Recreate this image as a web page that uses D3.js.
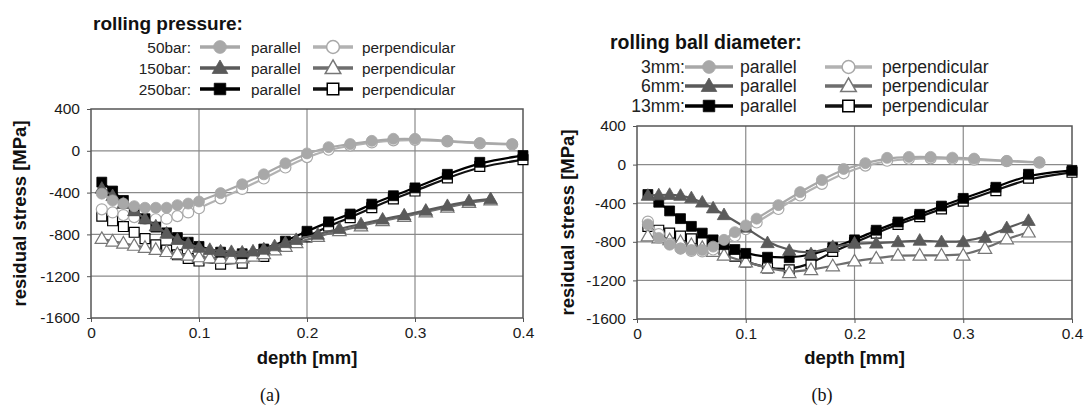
<!DOCTYPE html>
<html><head><meta charset="utf-8">
<script src="https://cdn.jsdelivr.net/npm/d3@7"></script>
<style>body{margin:0;background:#fff}svg{display:block}</style>
</head><body><svg id="c" width="1087" height="416"></svg>
<script>
// ---------- DATA ----------
const xTicks = [0, 0.1, 0.2, 0.3, 0.4];
const xTickLabels = ["0", "0.1", "0.2", "0.3", "0.4"];
const yTicks = [400, 0, -400, -800, -1200, -1600];
const yTickLabels = ["400", "0", "-400", "-800", "-1200", "-1600"];

const titleA = "rolling pressure:";
const levelsA = ["50bar:", "150bar:", "250bar:"];
const titleB = "rolling ball diameter:";
const levelsB = ["3mm:", "6mm:", "13mm:"];
const dirLabels = ["parallel", "perpendicular"];

// panel (a): [depth mm, residual stress MPa]
const a50par = [[0.01,-410],[0.02,-475],[0.03,-505],[0.04,-530],[0.05,-545],[0.06,-545],[0.07,-545],[0.08,-520],[0.09,-505],[0.10,-485],[0.12,-405],[0.14,-320],[0.16,-225],[0.18,-120],[0.20,-25],[0.22,35],[0.24,65],[0.26,95],[0.28,115],[0.30,115],[0.33,95],[0.36,75],[0.39,65]];
const a50perp = [[0.01,-560],[0.02,-590],[0.03,-615],[0.04,-635],[0.05,-650],[0.06,-655],[0.07,-650],[0.08,-625],[0.09,-590],[0.10,-550],[0.12,-455],[0.14,-365],[0.16,-265],[0.18,-160],[0.20,-60],[0.22,10],[0.24,50],[0.26,80],[0.28,100],[0.30,105],[0.33,90],[0.36,70],[0.39,60]];
const a150par = [[0.01,-360],[0.02,-430],[0.03,-505],[0.04,-575],[0.05,-650],[0.06,-720],[0.07,-790],[0.08,-850],[0.09,-890],[0.10,-925],[0.11,-945],[0.12,-960],[0.13,-965],[0.14,-970],[0.15,-960],[0.16,-940],[0.17,-910],[0.18,-880],[0.19,-850],[0.21,-800],[0.23,-745],[0.25,-700],[0.27,-655],[0.29,-615],[0.31,-570],[0.33,-525],[0.35,-480],[0.37,-460]];
const a150perp = [[0.01,-840],[0.02,-865],[0.03,-885],[0.04,-905],[0.05,-925],[0.06,-945],[0.07,-965],[0.08,-985],[0.09,-1000],[0.10,-1015],[0.11,-1025],[0.12,-1030],[0.13,-1030],[0.14,-1025],[0.15,-1010],[0.16,-985],[0.17,-950],[0.18,-915],[0.19,-880],[0.21,-820],[0.23,-765],[0.25,-720],[0.27,-670],[0.29,-630],[0.31,-585],[0.33,-540],[0.35,-495],[0.37,-470]];
const a250par = [[0.01,-300],[0.02,-385],[0.03,-475],[0.04,-570],[0.05,-650],[0.06,-730],[0.07,-785],[0.08,-830],[0.09,-875],[0.10,-915],[0.12,-970],[0.14,-985],[0.16,-940],[0.18,-865],[0.20,-770],[0.22,-680],[0.24,-605],[0.26,-510],[0.28,-430],[0.30,-355],[0.33,-225],[0.36,-110],[0.40,-45]];
const a250perp = [[0.01,-625],[0.02,-670],[0.03,-725],[0.04,-780],[0.05,-840],[0.06,-900],[0.07,-950],[0.08,-995],[0.09,-1030],[0.10,-1055],[0.12,-1085],[0.14,-1075],[0.16,-1010],[0.18,-915],[0.20,-825],[0.22,-720],[0.24,-640],[0.26,-545],[0.28,-460],[0.30,-385],[0.33,-260],[0.36,-150],[0.40,-85]];

// panel (b)
const b3par = [[0.01,-620],[0.02,-760],[0.03,-830],[0.04,-870],[0.05,-885],[0.06,-885],[0.07,-850],[0.08,-780],[0.09,-700],[0.10,-630],[0.11,-560],[0.13,-420],[0.15,-285],[0.17,-160],[0.19,-45],[0.21,15],[0.23,70],[0.25,80],[0.27,80],[0.29,72],[0.31,62],[0.34,38],[0.37,25]];
const b3perp = [[0.01,-590],[0.02,-720],[0.03,-820],[0.04,-870],[0.05,-895],[0.06,-900],[0.07,-880],[0.08,-820],[0.09,-740],[0.10,-670],[0.11,-600],[0.13,-460],[0.15,-320],[0.17,-200],[0.19,-90],[0.21,-10],[0.23,40],[0.25,60],[0.27,65],[0.29,60],[0.31,50],[0.34,35],[0.37,20]];
const b6par = [[0.01,-320],[0.02,-315],[0.03,-310],[0.04,-320],[0.05,-345],[0.06,-390],[0.07,-450],[0.08,-520],[0.10,-650],[0.12,-810],[0.14,-890],[0.16,-925],[0.18,-850],[0.20,-815],[0.22,-815],[0.24,-800],[0.26,-785],[0.28,-800],[0.30,-800],[0.32,-755],[0.34,-655],[0.36,-580]];
const b6perp = [[0.01,-740],[0.02,-760],[0.03,-780],[0.04,-800],[0.05,-830],[0.06,-860],[0.07,-900],[0.08,-940],[0.10,-1010],[0.12,-1070],[0.14,-1120],[0.16,-1090],[0.18,-1050],[0.20,-1000],[0.22,-970],[0.24,-940],[0.26,-940],[0.28,-940],[0.30,-940],[0.32,-870],[0.34,-770],[0.36,-700]];
const b13par = [[0.01,-310],[0.02,-390],[0.03,-480],[0.04,-560],[0.05,-640],[0.06,-710],[0.07,-780],[0.08,-830],[0.09,-880],[0.10,-920],[0.12,-960],[0.14,-965],[0.16,-940],[0.18,-860],[0.20,-780],[0.22,-680],[0.24,-595],[0.26,-515],[0.28,-430],[0.30,-350],[0.33,-235],[0.36,-100],[0.40,-60]];
const b13perp = [[0.01,-640],[0.02,-680],[0.03,-710],[0.04,-740],[0.05,-770],[0.06,-800],[0.07,-840],[0.08,-890],[0.09,-950],[0.10,-1010],[0.12,-1070],[0.14,-1090],[0.16,-1030],[0.18,-900],[0.20,-810],[0.22,-710],[0.24,-620],[0.26,-540],[0.28,-460],[0.30,-380],[0.33,-270],[0.36,-140],[0.40,-80]];

// ---------- STYLE ----------
const FONT = "'Liberation Sans', Arial, sans-serif";
const levelStyle = [
  {color: "#a8a8a8", lineP: "#a8a8a8", lineQ: "#b2b2b2", sym: d3.symbolCircle, size: 95},
  {color: "#5a5a5a", lineP: "#5a5a5a", lineQ: "#6e6e6e", sym: d3.symbolTriangle, size: 78},
  {color: "#000000", lineP: "#000000", lineQ: "#111111", sym: d3.symbolSquare, size: 98}
];

const svg = d3.select("#c");

function symbolPath(level, size) {
  return d3.symbol().type(levelStyle[level].sym).size(size || levelStyle[level].size)();
}

function drawPanel(p) {
  const x = d3.scaleLinear().domain([0, 0.4]).range([p.x0, p.x1]);
  const y = d3.scaleLinear().domain([-1600, 400]).range([p.y1, p.y0]);
  const g = svg.append("g");

  // grid
  g.selectAll(".gx").data(xTicks.slice(1, -1)).join("line")
    .attr("x1", d => x(d)).attr("x2", d => x(d)).attr("y1", p.y0).attr("y2", p.y1)
    .attr("stroke", "#8a8a8a").attr("stroke-width", 1.2);
  g.selectAll(".gy").data(yTicks.slice(1, -1)).join("line")
    .attr("y1", d => y(d)).attr("y2", d => y(d)).attr("x1", p.x0).attr("x2", p.x1)
    .attr("stroke", "#8a8a8a").attr("stroke-width", 1.2);

  // axes
  const ax = g.append("g").attr("transform", `translate(0,${p.y1})`)
    .call(d3.axisBottom(x).tickValues(xTicks).tickFormat((d, i) => xTickLabels[i]).tickSize(4).tickPadding(4.5).tickSizeOuter(0));
  const ay = g.append("g").attr("transform", `translate(${p.x0},0)`)
    .call(d3.axisLeft(y).tickValues(yTicks).tickFormat((d, i) => yTickLabels[i]).tickSize(4).tickPadding(7).tickSizeOuter(0));
  [ax, ay].forEach(a => {
    a.select(".domain").remove();
    a.selectAll(".tick line").attr("stroke", "#555");
    a.selectAll("text").attr("font-family", FONT).attr("font-size", 15.5).attr("fill", "#1a1a1a");
  });

  // frame
  g.append("rect").attr("x", p.x0).attr("y", p.y0).attr("width", p.x1 - p.x0).attr("height", p.y1 - p.y0)
    .attr("fill", "none").attr("stroke", "#555").attr("stroke-width", 1.5);

  // series
  const line = d3.line().x(d => x(d[0])).y(d => y(d[1])).curve(d3.curveBasis);
  p.series.forEach(s => {
    const st = levelStyle[s.level];
    const col = s.perp ? st.lineQ : st.lineP;
    g.append("path").datum(s.data).attr("d", line).attr("fill", "none")
      .attr("stroke", col).attr("stroke-width", 2.2);
    g.selectAll(null).data(s.data).join("path")
      .attr("d", symbolPath(s.level))
      .attr("transform", d => `translate(${x(d[0])},${y(d[1]) + (s.level === 1 ? 1 : 0)})`)
      .attr("fill", s.perp ? "#fff" : st.color)
      .attr("stroke", s.perp ? (s.level === 1 ? "#777" : st.color) : st.color)
      .attr("stroke-width", s.perp ? 1.2 : 0.8);
  });

  // axis titles
  g.append("text").attr("transform", `translate(${p.ylx},${(p.y0 + p.y1) / 2}) rotate(-90)`)
    .attr("text-anchor", "middle").attr("dy", "0.35em")
    .attr("font-family", FONT).attr("font-weight", "bold").attr("font-size", 18.5).attr("fill", "#111")
    .text("residual stress [MPa]");
  g.append("text").attr("x", (p.x0 + p.x1) / 2).attr("y", p.xly)
    .attr("text-anchor", "middle").attr("dy", "0.35em")
    .attr("font-family", FONT).attr("font-weight", "bold").attr("font-size", 18.5).attr("fill", "#111")
    .text("depth [mm]");
  // caption
  g.append("text").attr("x", p.capx).attr("y", p.capy).attr("text-anchor", "middle").attr("dy", "0.35em")
    .attr("font-family", "'Liberation Serif', 'DejaVu Serif', serif").attr("font-size", 18).attr("fill", "#111")
    .text(p.caption);

  // legend
  const L = p.legend;
  const lg = svg.append("g");
  lg.append("text").attr("x", L.tx).attr("y", L.ty).attr("dy", "0.35em")
    .attr("font-family", FONT).attr("font-weight", "bold").attr("font-size", L.titleSize).attr("fill", "#111")
    .text(L.title);
  L.levels.forEach((lab, i) => {
    const yy = L.rows[i];
    const st = levelStyle[i];
    lg.append("text").attr("x", L.labx).attr("y", yy).attr("dy", "0.36em").attr("text-anchor", "end")
      .attr("font-family", FONT).attr("font-size", L.fs).attr("fill", "#222").text(lab);
    [0, 1].forEach(k => {
      const sx0 = L.sym[k][0], sx1 = L.sym[k][1];
      lg.append("line").attr("x1", sx0).attr("x2", sx1).attr("y1", yy).attr("y2", yy)
        .attr("stroke", k ? st.lineQ : st.lineP).attr("stroke-width", 3.5);
      lg.append("path").attr("d", symbolPath(i, st.size * 1.35))
        .attr("transform", `translate(${(sx0 + sx1) / 2},${yy + (i === 1 ? 1 : 0)})`)
        .attr("fill", k ? "#fff" : st.color)
        .attr("stroke", k ? (i === 1 ? "#777" : st.color) : st.color).attr("stroke-width", k ? 1.5 : 0.8);
      lg.append("text").attr("x", L.dirx[k]).attr("y", yy).attr("dy", "0.36em")
        .attr("font-family", FONT).attr("font-size", L.fs).attr("fill", "#222").text(dirLabels[k]);
    });
  });
}

drawPanel({
  x0: 91, x1: 523, y0: 109, y1: 318, ylx: 20, xly: 358, capx: 270, capy: 395, caption: "(a)",
  series: [
    {level: 2, perp: true, data: a250perp},
    {level: 1, perp: true, data: a150perp},
    {level: 0, perp: true, data: a50perp},
    {level: 2, perp: false, data: a250par},
    {level: 1, perp: false, data: a150par},
    {level: 0, perp: false, data: a50par}
  ],
  legend: {title: titleA, tx: 93, ty: 23, titleSize: 19, levels: levelsA, rows: [47, 68, 89], fs: 15.4,
    labx: 191, sym: [[200, 240], [313, 353]], dirx: [251, 362]}
});

drawPanel({
  x0: 637, x1: 1072, y0: 126, y1: 319, ylx: 568, xly: 358, capx: 822, capy: 395, caption: "(b)",
  series: [
    {level: 2, perp: true, data: b13perp},
    {level: 1, perp: true, data: b6perp},
    {level: 0, perp: true, data: b3perp},
    {level: 2, perp: false, data: b13par},
    {level: 1, perp: false, data: b6par},
    {level: 0, perp: false, data: b3par}
  ],
  legend: {title: titleB, tx: 610, ty: 42, titleSize: 19.5, levels: levelsB, rows: [67, 86, 106], fs: 17.6,
    labx: 685, sym: [[685, 733], [825, 872]], dirx: [740, 882]}
});
</script></body></html>
